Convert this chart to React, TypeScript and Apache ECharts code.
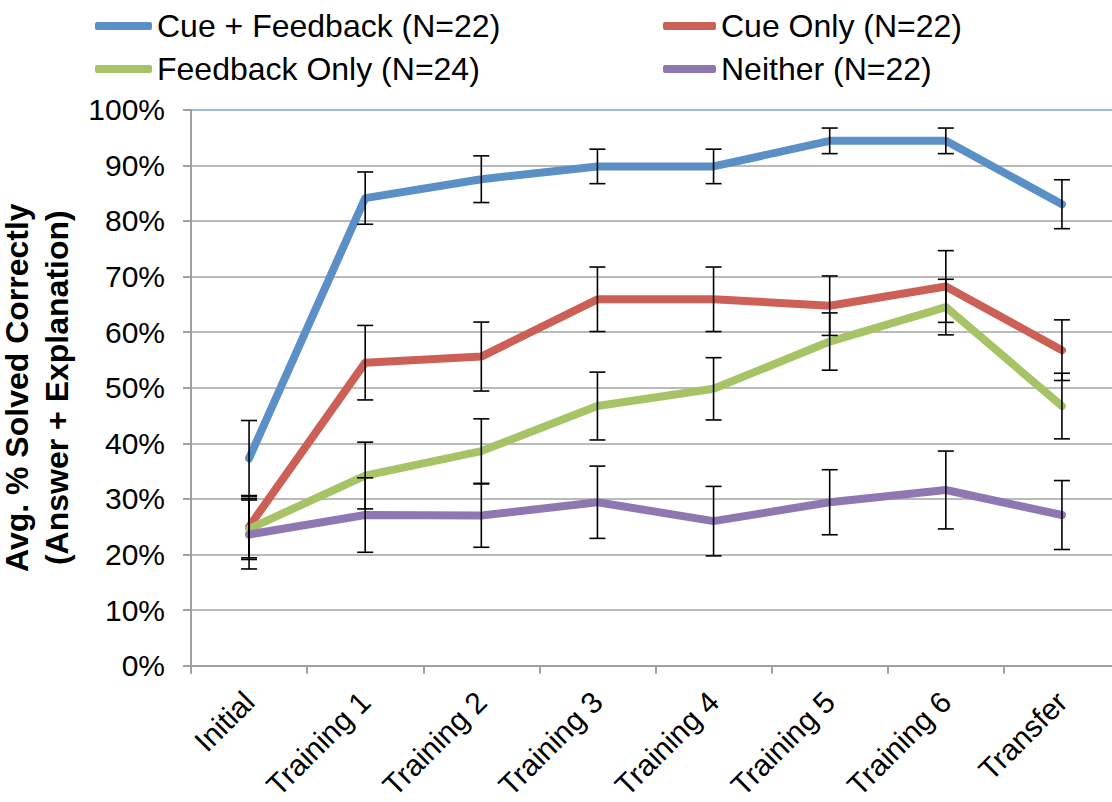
import React, { useEffect, useRef } from "react";
import * as echarts from "echarts";

const categories = ["Initial", "Training 1", "Training 2", "Training 3", "Training 4", "Training 5", "Training 6", "Transfer"];
const seriesNames = ["Cue + Feedback (N=22)", "Cue Only (N=22)", "Feedback Only (N=24)", "Neither (N=22)"];
const cueFeedback = [37.3, 84.1, 87.5, 89.8, 89.8, 94.4, 94.4, 83.0];
const cueFeedbackErr = [6.8, 4.7, 4.2, 3.1, 3.1, 2.3, 2.3, 4.4];
const cueOnly = [25.0, 54.5, 55.6, 65.9, 65.9, 64.75, 68.2, 56.75];
const cueOnlyErr = [5.6, 6.7, 6.2, 5.8, 5.8, 5.35, 6.45, 5.45];
const feedbackOnly = [24.6, 34.2, 38.6, 46.7, 49.8, 58.3, 64.5, 46.7];
const feedbackOnlyErr = [5.5, 6.0, 5.8, 6.1, 5.6, 5.15, 5.0, 5.9];
const neither = [23.6, 27.1, 27.0, 29.4, 26.0, 29.4, 31.6, 27.1];
const neitherErr = [6.2, 6.7, 5.7, 6.5, 6.25, 5.85, 7.0, 6.2];

const colors = ["#5B90C6", "#CC6057", "#A6C466", "#8F78B1"];
const FONT = "'Liberation Sans', Arial, Helvetica, sans-serif";

export default function App() {
  const ref = useRef<HTMLDivElement>(null);
  useEffect(() => {
    if (!ref.current) return;
    const chart = echarts.init(ref.current, undefined, { renderer: "svg" });
    const values = [cueFeedback, cueOnly, feedbackOnly, neither];
    const errs = [cueFeedbackErr, cueOnlyErr, feedbackOnlyErr, neitherErr];

    const lineSeries = values.map((v, k) => ({
      type: "line",
      name: seriesNames[k],
      data: v,
      symbol: "none",
      z: 2 + k,
      lineStyle: { width: 8, color: colors[k], cap: "round", join: "round" },
      itemStyle: { color: colors[k] },
    }));

    const errSeries = values.map((v, k) => ({
      type: "custom",
      z: 20,
      data: v.map((m, i) => [i, m - errs[k][i], m + errs[k][i]]),
      encode: { x: 0, y: [1, 2] },
      renderItem: (params: any, api: any) => {
        const p1 = api.coord([api.value(0), api.value(1)]);
        const p2 = api.coord([api.value(0), api.value(2)]);
        const x = p1[0];
        const hw = 8;
        const style = { stroke: "#000", lineWidth: 1.6 };
        return {
          type: "group",
          children: [
            { type: "line", shape: { x1: x, y1: p2[1], x2: x, y2: p1[1] }, style },
            { type: "line", shape: { x1: x - hw, y1: p2[1], x2: x + hw, y2: p2[1] }, style },
            { type: "line", shape: { x1: x - hw, y1: p1[1], x2: x + hw, y2: p1[1] }, style },
          ],
        };
      },
    }));

    const gridColors = ["#A3A3A3", "#A3A3A3", "#A3A3A3", "#A3A3A3", "#A3A3A3", "#A3A3A3", "#A3A3A3", "#A3A3A3", "#A3A3A3", "#A3A3A3", "#7EA3D0"];

    const legendCommon = {
      orient: "vertical",
      icon: "roundRect",
      itemHeight: 8,
      itemGap: 9,
      padding: 0,
      selectedMode: false,
      textStyle: { fontSize: 32, color: "#000", fontFamily: FONT, lineHeight: 34 },
    };

    chart.setOption({
      animation: false,
      backgroundColor: "#fff",
      legend: [
        { ...legendCommon, left: 95, top: 9, itemWidth: 57, data: [seriesNames[0], seriesNames[2]] },
        { ...legendCommon, left: 663, top: 9, itemWidth: 53, data: [seriesNames[1], seriesNames[3]] },
      ],
      grid: { left: 191, top: 109.7, bottom: 136.3, right: -8, outerBoundsMode: "none", containLabel: false },
      xAxis: {
        type: "category",
        data: categories,
        boundaryGap: true,
        axisLine: { lineStyle: { color: "#9CA0A4", width: 2 } },
        axisTick: { show: true, length: 8, interval: 0, alignWithLabel: false, lineStyle: { color: "#9CA0A4", width: 2 } },
        axisLabel: { rotate: 45, interval: 0, fontSize: 30, color: "#000", fontFamily: FONT, margin: 31 },
        splitLine: { show: false },
      },
      yAxis: {
        type: "value",
        min: 0,
        max: 100,
        interval: 10,
        axisLine: { show: true, lineStyle: { color: "#9CA0A4", width: 2 } },
        axisTick: { show: true, length: 8, lineStyle: { color: "#9CA0A4", width: 2 } },
        axisLabel: { formatter: "{value}%", fontSize: 30, color: "#000", fontFamily: FONT, margin: 26 },
        splitLine: { lineStyle: { color: gridColors, width: 1.5 } },
        name: "Avg. % Solved Correctly\n(Answer + Explanation)",
        nameLocation: "middle",
        nameRotate: 90,
        nameGap: 108,
        nameTextStyle: { fontSize: 32, fontWeight: "bold", color: "#000", fontFamily: FONT, lineHeight: 40 },
      },
      series: [...lineSeries, ...errSeries],
    });
    return () => chart.dispose();
  }, []);
  return <div ref={ref} style={{ position: "fixed", left: 0, top: 0, width: 1112, height: 802 }} />;
}
